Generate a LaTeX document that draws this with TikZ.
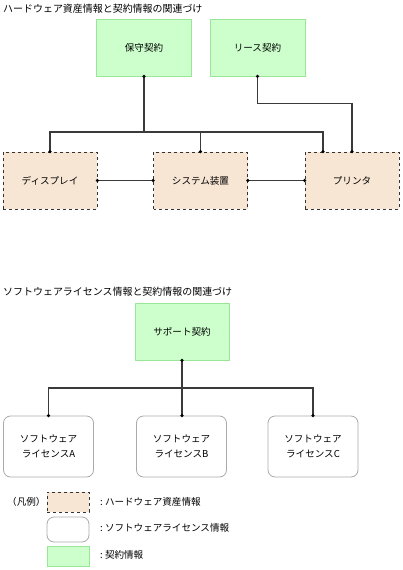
\documentclass[tikz,border=0pt]{standalone}
\usepackage{fontspec}
\setmainfont{Noto Sans CJK JP}
\usetikzlibrary{calc}
\definecolor{hwfill}{HTML}{F8E6D4}
\definecolor{ctfill}{HTML}{CCFFCC}
\definecolor{ctline}{HTML}{99E699}
\definecolor{swline}{HTML}{AAAAAA}
\definecolor{conn}{HTML}{3A3A3A}
\tikzset{
  hwbox/.style={draw=black!80, dashed, fill=hwfill, minimum width=94bp, minimum height=57bp, inner sep=0pt, line width=0.8bp},
  ctbox/.style={draw=ctline, fill=ctfill, minimum width=95bp, minimum height=57bp, inner sep=0pt, line width=0.8bp},
  swbox/.style={draw=swline, fill=white, rounded corners=7bp, minimum width=90bp, minimum height=61bp, inner sep=0pt, line width=0.8bp, align=center},
  conline/.style={draw=conn, line width=1.1bp},
  ttl/.style={anchor=west, inner sep=0pt, font=\fontsize{10}{12}\selectfont},
  lbl/.style={font=\fontsize{9.6}{14.5}\selectfont},
}
\newcommand{\dotat}[1]{\fill[black] (#1) circle (1.8bp);}
\begin{document}
\begin{tikzpicture}[x=1bp, y=-1bp, every node/.append style={lbl}]
\useasboundingbox (0,0) rectangle (402,570);
% titles
\node[ttl] (t1) at (3,9) {ハードウェア資産情報と契約情報の関連づけ};
\node[ttl] (t2) at (3,292) {ソフトウェアライセンス情報と契約情報の関連づけ};
% contracts
\node[ctbox] (hoshu) at (144,47.5) {保守契約};
\node[ctbox] (lease) at (257.5,47.5) {リース契約};
% hardware
\node[hwbox] (disp) at (50,180.5) {ディスプレイ};
\node[hwbox] (sys) at (200.5,180.5) {システム装置};
\node[hwbox] (prn) at (352,180.5) {プリンタ};
% hardware connectors
\coordinate (hbus) at (0,132);
\coordinate (prnL) at ($(prn.north)+(-29,0)$);
\draw[conline] (hoshu.south) -- (hoshu.south |- hbus);
\draw[conline] (disp.north) -- (disp.north |- hbus) -- (prnL |- hbus) -- (prnL);
\draw[conline] (sys.north |- hbus) -- (sys.north);
\draw[conline] (lease.south) -- ++(0,27) -| (prn.north);
\draw[conline] (disp.east) -- (sys.west);
\draw[conline] (sys.east) -- (prn.west);
\dotat{hoshu.south} \dotat{lease.south}
\dotat{disp.north} \dotat{sys.north} \dotat{prnL} \dotat{prn.north}
\dotat{disp.east} \dotat{sys.west} \dotat{sys.east} \dotat{prn.west}
% software
\node[ctbox, minimum width=94bp] (sup) at (182,331.5) {サポート契約};
\node[swbox] (swa) at (48.5,446.5) {ソフトウェア\\ライセンスA};
\node[swbox] (swb) at (181.5,446.5) {ソフトウェア\\ライセンスB};
\node[swbox] (swc) at (313,446.5) {ソフトウェア\\ライセンスC};
\coordinate (sbus) at (0,388);
\draw[conline] (sup.south) -- (sup.south |- swb.north);
\draw[conline] (swa.north) -- (swa.north |- sbus) -- (swc.north |- sbus) -- (swc.north);
\dotat{sup.south} \dotat{swa.north} \dotat{sup.south |- swb.north} \dotat{swc.north}
% legend
\node[anchor=west, inner sep=0pt] (leg) at (7,502) {（凡例）};
\node[hwbox, minimum width=42bp, minimum height=20bp] (lhw) at (68,502) {};
\node[swbox, minimum width=42bp, minimum height=25bp] (lsw) at (68,529.5) {};
\node[ctbox, minimum width=42bp, minimum height=20bp] (lct) at (68,556) {};
\node[anchor=west, inner sep=0pt] (lhwt) at (100,502) {:\ ハードウェア資産情報};
\node[anchor=west, inner sep=0pt] (lswt) at (100,528) {:\ ソフトウェアライセンス情報};
\node[anchor=west, inner sep=0pt] (lctt) at (100,555) {:\ 契約情報};
\end{tikzpicture}
\end{document}
